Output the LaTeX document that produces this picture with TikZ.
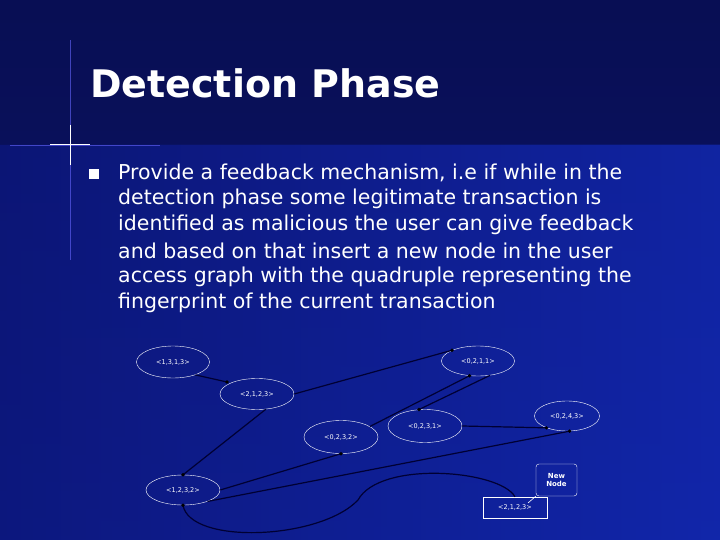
\documentclass[tikz,border=0pt]{standalone}
\usepackage{fontspec}
\setmainfont{DejaVu Sans}
\usetikzlibrary{shapes.geometric}
\definecolor{bgtop}{RGB}{10,16,90}
\definecolor{bgbot}{RGB}{14,30,150}
\definecolor{bgl}{RGB}{12,22,120}
\definecolor{bgr}{RGB}{18,40,175}
\definecolor{bgtitle}{RGB}{8,14,80}
\begin{document}
\begin{tikzpicture}[x=1pt,y=-1pt,
  st/.style={draw=white,ellipse,inner sep=0pt,text=white,font=\fontsize{6.5}{7}\selectfont},
  ed/.style={draw=black!80!blue,line width=1.2pt},
  dt/.style={fill=black,circle,inner sep=1.3pt}]
\useasboundingbox (0,0) rectangle (720,540);
\shade[top color=bgtop,bottom color=bgbot] (0,0) rectangle (720,540);
\shade[left color=bgl,right color=bgr,opacity=0.8] (0,145) rectangle (720,540);
\fill[bgtitle,opacity=0.6] (0,0) rectangle (720,145);
\draw[white!40!blue,line width=0.5pt,opacity=0.6] (70,40) -- (70,260);
\draw[white!40!blue,line width=0.5pt,opacity=0.6] (10,145) -- (160,145);
\draw[white,line width=1pt] (70,125) -- (70,165) (50,145) -- (90,145);
\node[anchor=west,text=white,font=\fontsize{38}{44}\bfseries\selectfont,inner sep=0pt] (title) at (90,83) {Detection Phase};
\fill[white] (89,169) rectangle (99,179);
\foreach \t [count=\i] in {Provide a feedback mechanism{,} i.e if while in the,detection phase some legitimate transaction is,identified as malicious the user can give feedback,and based on that insert a new node in the user,access graph with the quadruple representing the,fingerprint of the current transaction}
  \node[anchor=west,text=white,font=\fontsize{20.5}{24}\selectfont,inner sep=0pt] (l\i) at (118,147+26*\i) {\t};
\node[st,minimum width=73,minimum height=32] (a) at (173,362) {<1,3,1,3>};
\node[st,minimum width=73,minimum height=30] (b) at (478,361) {<0,2,1,1>};
\node[st,minimum width=74,minimum height=31] (c) at (257,394) {<2,1,2,3>};
\node[st,minimum width=65,minimum height=30] (d) at (567,416) {<0,2,4,3>};
\node[st,minimum width=74,minimum height=33] (e) at (341,437) {<0,2,3,2>};
\node[st,minimum width=74,minimum height=33] (f) at (425,426) {<0,2,3,1>};
\node[st,minimum width=74,minimum height=30] (g) at (183,490) {<1,2,3,2>};
\node[draw=white,text=white,font=\fontsize{6.5}{7}\selectfont,minimum width=64,minimum height=21,inner sep=0pt] (h) at (515,507.5) {<2,1,2,3>};
\node[draw=white,rounded corners=3pt,text=white,font=\fontsize{7}{8}\bfseries\selectfont,minimum width=41,minimum height=32,align=center,inner sep=0pt] (n) at (556.5,480) {New\\Node};
\coordinate (p) at (528,503);
\draw[white,line width=0.6pt] (n.south west) -- (p);
\draw[ed] (a.-30) -- (227,382) node[dt]{};
\draw[ed] (c.east) -- (b.north west) node[dt]{};
\draw[ed] (c.-60) -- (g.north) node[dt]{};
\draw[ed] (e.20) -- (b.-120) node[dt]{};
\draw[ed] (b.-50) -- (f.110) node[dt]{};
\draw[ed] (f.east) -- (d.-150) node[dt]{};
\draw[ed] (g.east) -- (e.south) node[dt]{};
\draw[ed] (g.-25) -- (d.-80) node[dt]{};
\draw[ed] (g.south) node[dt]{} .. controls (190,545) and (320,540) .. (358,500) .. controls (380,460) and (500,470) .. (h.north);
\end{tikzpicture}
\end{document}
